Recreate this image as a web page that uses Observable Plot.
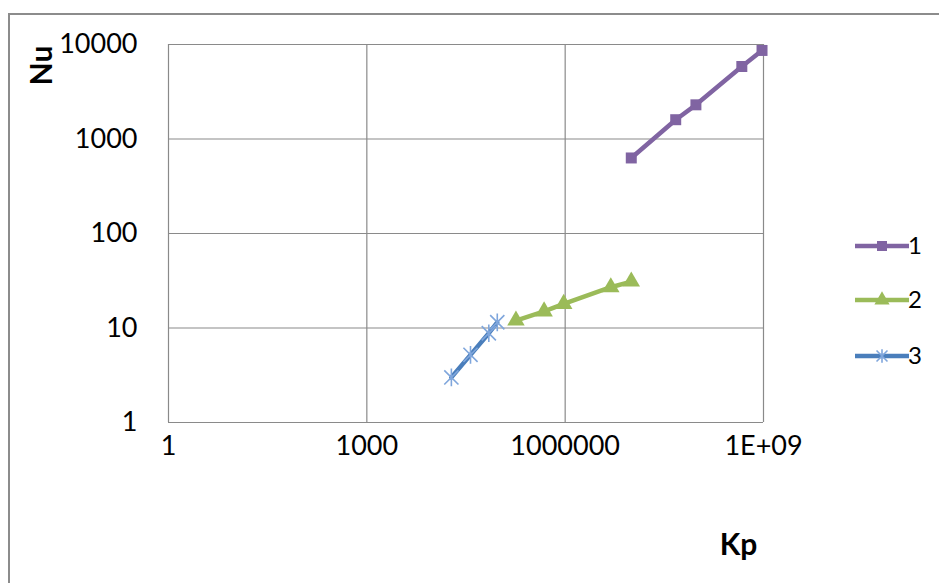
<!DOCTYPE html>
<html>
<head>
<meta charset="utf-8">
<script src="https://cdn.jsdelivr.net/npm/d3@7"></script>
<script src="https://cdn.jsdelivr.net/npm/@observablehq/plot@0.6"></script>
<style>
  html, body { margin: 0; padding: 0; background: #fff; }
  #wrap { position: relative; width: 939px; height: 583px; overflow: hidden; background: #fff; }
  #frame { position: absolute; left: 8px; top: 13px; width: 960px; height: 600px;
           border-top: 2px solid #8c8c8c; border-left: 2px solid #8c8c8c; box-sizing: border-box; }
  #chart { position: absolute; left: 0; top: 0; }
</style>
</head>
<body>
<div id="wrap"><div id="frame"></div><div id="chart"></div></div>
<script>
// ---- data ----
const xTicks = [1, 1e3, 1e6, 1e9];
const xTickLabels = ["1", "1000", "1000000", "1E+09"];
const yTicks = [1, 10, 100, 1000, 10000];
const yTickLabels = ["1", "10", "100", "1000", "10000"];

const seriesNames = ["1", "2", "3"];
const seriesColors = ["#8064a2", "#9bbb59", "#4a7ebb"];

const s1Kp = [1.0e7, 4.7e7, 9.5e7, 4.7e8, 9.5e8];
const s1Nu = [630, 1600, 2300, 5850, 8650];
const s2Kp = [1.8e5, 4.8e5, 9.5e5, 4.9e6, 1.0e7];
const s2Nu = [12, 15, 18, 27, 31];
const s3Kp = [1.9e4, 3.7e4, 7.0e4, 9.4e4];
const s3Nu = [3.0, 5.2, 8.8, 11.5];

const xLabel = "Kp";
const yLabel = "Nu";

// ---- build ----
const toRows = (kp, nu) => kp.map((k, i) => ({kp: k, nu: nu[i]}));
const d1 = toRows(s1Kp, s1Nu), d2 = toRows(s2Kp, s2Nu), d3r = toRows(s3Kp, s3Nu);

const star = {
  draw(ctx, size) {
    const r = Math.sqrt(size) / 2;
    ctx.moveTo(-r, -r); ctx.lineTo(r, r);
    ctx.moveTo(r, -r); ctx.lineTo(-r, r);
    ctx.moveTo(0, -r * 1.25); ctx.lineTo(0, r * 1.25);
  }
};

const font = "Lato, 'Open Sans', sans-serif";

const chart = Plot.plot({
  width: 939,
  height: 583,
  marginLeft: 168,
  marginRight: 176,
  marginTop: 44,
  marginBottom: 161,
  x: {type: "log", domain: [1, 1e9]},
  y: {type: "log", domain: [1, 1e4]},
  style: {fontFamily: font, fontSize: "27px", background: "transparent", color: "#000"},
  marks: [
    Plot.ruleX(xTicks, {x: d => d, stroke: "#8a8a8a", strokeWidth: 1.2, strokeOpacity: 1}),
    Plot.ruleY(yTicks, {y: d => d, stroke: "#8a8a8a", strokeWidth: 1.2, strokeOpacity: 1}),
    Plot.line(d1, {x: "kp", y: "nu", stroke: seriesColors[0], strokeWidth: 4.5}),
    Plot.line(d2, {x: "kp", y: "nu", stroke: seriesColors[1], strokeWidth: 4.5}),
    Plot.line(d3r, {x: "kp", y: "nu", stroke: seriesColors[2], strokeWidth: 4.5}),
    Plot.dot(d1, {x: "kp", y: "nu", symbol: "square", r: 6.2, fill: seriesColors[0], stroke: "none"}),
    Plot.dot(d2, {x: "kp", y: "nu", symbol: "triangle", r: 6.5, fill: seriesColors[1], stroke: "none"}),
    Plot.dot(d3r, {x: "kp", y: "nu", symbol: star, r: 8, fill: "none", stroke: "#7fa6dc", strokeWidth: 1.6}),
    Plot.axisX({ticks: xTicks, tickSize: 0, tickPadding: 13, label: null,
      tickFormat: d => xTickLabels[xTicks.indexOf(d)], fontSize: 27}),
    Plot.axisY({ticks: yTicks, tickSize: 0, tickPadding: 31, label: null,
      tickFormat: d => yTickLabels[yTicks.indexOf(d)], fontSize: 27}),
    Plot.text([yLabel], {frameAnchor: "top-left", dx: -126, dy: 21, rotate: -90,
      fontWeight: "bold", fontSize: 30, textAnchor: "middle", lineAnchor: "middle"}),
    Plot.text([xLabel], {frameAnchor: "bottom-right", dx: -25, dy: 123,
      fontWeight: "bold", fontSize: 30, textAnchor: "middle", lineAnchor: "middle"})
  ]
});
document.getElementById("chart").appendChild(chart);

// ---- legend ----
const svg = d3.select(chart);
const lg = svg.append("g").attr("font-family", font).attr("font-size", 24);
const legendY = [246, 300, 356];
const legendSymbols = [d3.symbolSquare, d3.symbolTriangle, star];
seriesNames.forEach((name, i) => {
  const g = lg.append("g").attr("transform", `translate(0,${legendY[i]})`);
  g.append("line").attr("x1", 855).attr("x2", 909).attr("y1", 0).attr("y2", 0)
    .attr("stroke", seriesColors[i]).attr("stroke-width", 4.5).attr("stroke-linecap", "butt");
  const sym = d3.symbol(legendSymbols[i], i === 2 ? 120 : 100)();
  g.append("path").attr("d", sym).attr("transform", "translate(882,0)")
    .attr("fill", i === 2 ? "none" : seriesColors[i])
    .attr("stroke", i === 2 ? "#7fa6dc" : "none").attr("stroke-width", 1.6);
  g.append("text").attr("x", 915).attr("y", 0).attr("dy", "0.35em").attr("fill", "#000").text(name);
});
</script>
</body>
</html>
